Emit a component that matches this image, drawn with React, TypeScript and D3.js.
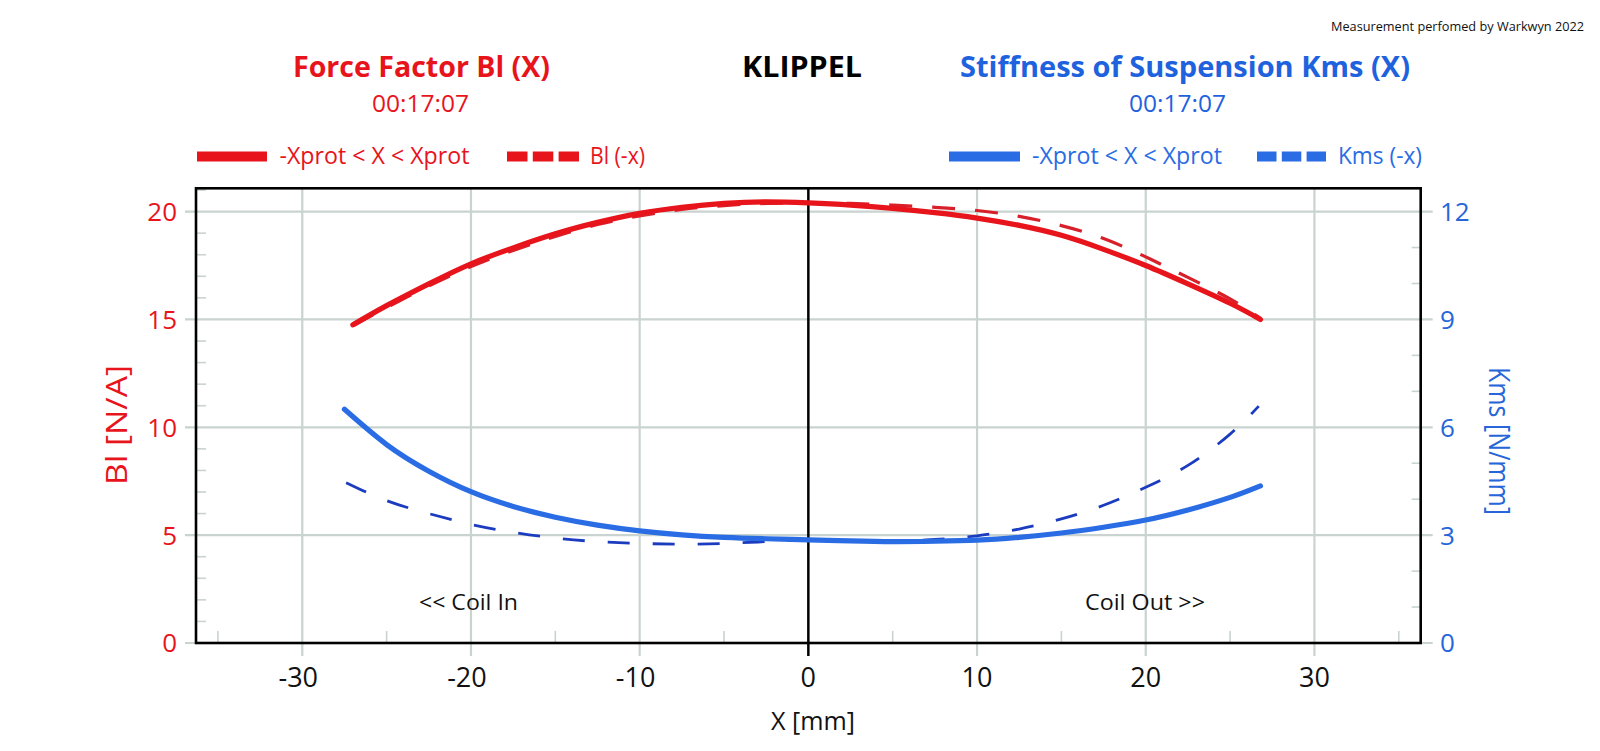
import React from "react";
import * as d3 from "d3";

// ---------- data ----------
const blSolidX = [-27, -25, -22.5, -20, -17.5, -15, -12.5, -10, -7.5, -5, -2.5, 0, 2.5, 5, 7.5, 10, 12.5, 15, 17.5, 20, 22.5, 25, 26.8];
const blSolidY = [14.75, 15.64, 16.65, 17.58, 18.32, 18.97, 19.5, 19.92, 20.2, 20.38, 20.45, 20.4, 20.3, 20.15, 19.95, 19.7, 19.36, 18.9, 18.25, 17.5, 16.65, 15.75, 15.0];

const blDashX = [-27, -25, -22.5, -20, -17.5, -15, -12.5, -10, -7.5, -5, -2.5, 0, 2.5, 5, 7.5, 10, 12.5, 15, 17.5, 20, 22.5, 25, 26.8];
const blDashY = [14.7, 15.55, 16.55, 17.45, 18.2, 18.85, 19.4, 19.8, 20.1, 20.28, 20.38, 20.4, 20.38, 20.3, 20.2, 20.05, 19.78, 19.35, 18.75, 17.9, 16.95, 15.95, 15.05];

const kmsSolidX = [-27.5, -25, -22.5, -20, -17.5, -15, -12.5, -10, -7.5, -5, -2.5, 0, 2.5, 5, 7.5, 10, 12.5, 15, 17.5, 20, 22.5, 25, 26.8];
const kmsSolidY = [6.5, 5.52, 4.78, 4.21, 3.8, 3.5, 3.28, 3.12, 3.01, 2.94, 2.9, 2.87, 2.84, 2.82, 2.83, 2.86, 2.94, 3.06, 3.22, 3.42, 3.7, 4.05, 4.37];

const kmsDashX = [-27.4, -25, -22.5, -20, -17.5, -15, -12.5, -10, -7.5, -5, -2.5, 0, 2.5, 5, 7.5, 10, 12.5, 15, 17.5, 20, 22.5, 25, 26.7];
const kmsDashY = [4.46, 3.96, 3.6, 3.3, 3.08, 2.92, 2.82, 2.77, 2.75, 2.77, 2.82, 2.86, 2.85, 2.84, 2.88, 2.98, 3.17, 3.45, 3.83, 4.33, 4.94, 5.81, 6.59];

const xTicks = [-30, -20, -10, 0, 10, 20, 30];
const xMinorTicks = [-35, -25, -15, -5, 5, 15, 25, 35];
const blTicks = [0, 5, 10, 15, 20];
const blMinorTicks = [1, 2, 3, 4, 6, 7, 8, 9, 11, 12, 13, 14, 16, 17, 18, 19, 21];
const kmsTicks = [0, 3, 6, 9, 12];
const kmsMinorTicks = [1, 2, 4, 5, 7, 8, 10, 11];

// ---------- layout ----------
const W = 1600, H = 751;
const L = 196, R = 1420.7, T = 188.3, B = 643;
const RED = "#e8141c";
const RED_D = "#d8202a";
const BLUE = "#2a6ce4";
const BLUE_D = "#1c3cc0";
const GRID = "#c9d3cf";
const FONT = "'Open Sans', 'DejaVu Sans', sans-serif";

export default function App() {
  const x = d3.scaleLinear().domain([-36.3, 36.3]).range([L, R]);
  const yL = d3.scaleLinear().domain([0, 21.08]).range([B, T]);
  const yR = d3.scaleLinear().domain([0, 21.08 * 0.6]).range([B, T]);

  const lineL = d3.line<[number, number]>().x(d => x(d[0])).y(d => yL(d[1])).curve(d3.curveNatural);
  const lineR = d3.line<[number, number]>().x(d => x(d[0])).y(d => yR(d[1])).curve(d3.curveNatural);

  const zip = (a: number[], b: number[]) => a.map((v, i) => [v, b[i]] as [number, number]);

  return (
    <svg width={W} height={H} style={{ position: "absolute", left: 0, top: 0, background: "#fff" }} fontFamily={FONT}>
      <rect x={0} y={0} width={W} height={H} fill="#fff" />
      {/* header */}
      <text x={1584} y={31} fontSize={12} textAnchor="end" fill="#111" textLength={253} lengthAdjust="spacingAndGlyphs">Measurement perfomed by Warkwyn 2022</text>
      <text x={421.5} y={77} fontSize={28} fontWeight="bold" fill={RED} textAnchor="middle" textLength={257} lengthAdjust="spacingAndGlyphs">Force Factor Bl (X)</text>
      <text x={420.5} y={111.5} fontSize={23} fill={RED} textAnchor="middle" textLength={97} lengthAdjust="spacingAndGlyphs">00:17:07</text>
      <text x={802} y={77} fontSize={28} fontWeight="bold" fill="#000" textAnchor="middle" textLength={120} lengthAdjust="spacingAndGlyphs">KLIPPEL</text>
      <text x={1185} y={77} fontSize={28} fontWeight="bold" fill="#1f62de" textAnchor="middle" textLength={450} lengthAdjust="spacingAndGlyphs">Stiffness of Suspension Kms (X)</text>
      <text x={1177.5} y={111.5} fontSize={23} fill="#1f62de" textAnchor="middle" textLength={97} lengthAdjust="spacingAndGlyphs">00:17:07</text>

      {/* legends */}
      <line x1={197} x2={267} y1={156.5} y2={156.5} stroke={RED} strokeWidth={10} />
      <text x={279.5} y={164} fontSize={23} fill={RED} textLength={190} lengthAdjust="spacingAndGlyphs">-Xprot &lt; X &lt; Xprot</text>
      <line x1={507} x2={579} y1={156.5} y2={156.5} stroke={RED} strokeWidth={10} strokeDasharray="20.5 5.3" />
      <text x={590} y={164} fontSize={23} fill={RED} textLength={55} lengthAdjust="spacingAndGlyphs">Bl (-x)</text>

      <line x1={949} x2={1020} y1={156.5} y2={156.5} stroke={BLUE} strokeWidth={10} />
      <text x={1032} y={164} fontSize={23} fill={BLUE} textLength={190} lengthAdjust="spacingAndGlyphs">-Xprot &lt; X &lt; Xprot</text>
      <line x1={1257} x2={1326} y1={156.5} y2={156.5} stroke={BLUE} strokeWidth={10} strokeDasharray="19.5 5.3" />
      <text x={1338} y={164} fontSize={23} fill={BLUE} textLength={84} lengthAdjust="spacingAndGlyphs">Kms (-x)</text>

      {/* grid */}
      {xTicks.filter(t => t !== 0).map(t => (
        <line key={"gx" + t} x1={x(t)} x2={x(t)} y1={T} y2={B + 13} stroke={GRID} strokeWidth={2.2} />
      ))}
      {blTicks.map(t => (
        <line key={"gy" + t} x1={L - 11} x2={R + 12} y1={yL(t)} y2={yL(t)} stroke={GRID} strokeWidth={2.2} />
      ))}
      {blMinorTicks.map(t => (
        <line key={"ml" + t} x1={L} x2={L + 10} y1={yL(t)} y2={yL(t)} stroke={GRID} strokeWidth={1.6} />
      ))}
      {kmsMinorTicks.map(t => (
        <line key={"mr" + t} x1={R - 9} x2={R} y1={yR(t)} y2={yR(t)} stroke={GRID} strokeWidth={1.6} />
      ))}
      {xMinorTicks.map(t => (
        <line key={"mx" + t} x1={x(t)} x2={x(t)} y1={B} y2={B - 12} stroke={GRID} strokeWidth={1.6} />
      ))}

      {/* zero line */}
      <line x1={x(0)} x2={x(0)} y1={T} y2={B + 13} stroke="#000" strokeWidth={2.5} />

      {/* frame */}
      <rect x={L} y={T} width={R - L} height={B - T} fill="none" stroke="#000" strokeWidth={2.6} />

      {/* annotations */}
      <text x={419} y={610} fontSize={21} fill="#111" textLength={99} lengthAdjust="spacingAndGlyphs">&lt;&lt; Coil In</text>
      <text x={1085} y={610} fontSize={21} fill="#111" textLength={120} lengthAdjust="spacingAndGlyphs">Coil Out &gt;&gt;</text>

      {/* curves */}
      <path d={lineL(zip(blDashX, blDashY)) || ""} fill="none" stroke={RED_D} strokeWidth={3.2} strokeDasharray="23 20" />
      <path d={lineL(zip(blSolidX, blSolidY)) || ""} fill="none" stroke={RED} strokeWidth={5.2} strokeLinecap="round" />
      <path d={lineR(zip(kmsDashX, kmsDashY)) || ""} fill="none" stroke={BLUE_D} strokeWidth={2.8} strokeDasharray="22 23" />
      <path d={lineR(zip(kmsSolidX, kmsSolidY)) || ""} fill="none" stroke={BLUE} strokeWidth={5.2} strokeLinecap="round" />

      {/* axis labels */}
      {blTicks.map(t => (
        <text key={"lb" + t} x={177} y={yL(t)} dy="0.36em" fontSize={26} fill={RED} textAnchor="end">{t}</text>
      ))}
      {kmsTicks.map(t => (
        <text key={"rb" + t} x={1440} y={yR(t)} dy="0.36em" fontSize={26} fill="#2666d8" textAnchor="start">{t}</text>
      ))}
      {xTicks.map(t => (
        <text key={"xb" + t} x={x(t) + (t < 0 ? -4 : 0)} y={686.5} fontSize={27} fill="#111" textAnchor="middle">{t}</text>
      ))}
      <text x={813} y={730} fontSize={26} fill="#111" textAnchor="middle" textLength={84} lengthAdjust="spacingAndGlyphs">X [mm]</text>
      <text transform={`translate(127,425) rotate(-90)`} fontSize={30} fill={RED} textAnchor="middle" textLength={120} lengthAdjust="spacingAndGlyphs">Bl [N/A]</text>
      <text transform={`translate(1489,441) rotate(90)`} fontSize={30} fill="#2666d8" textAnchor="middle" textLength={148} lengthAdjust="spacingAndGlyphs">Kms [N/mm]</text>
    </svg>
  );
}
